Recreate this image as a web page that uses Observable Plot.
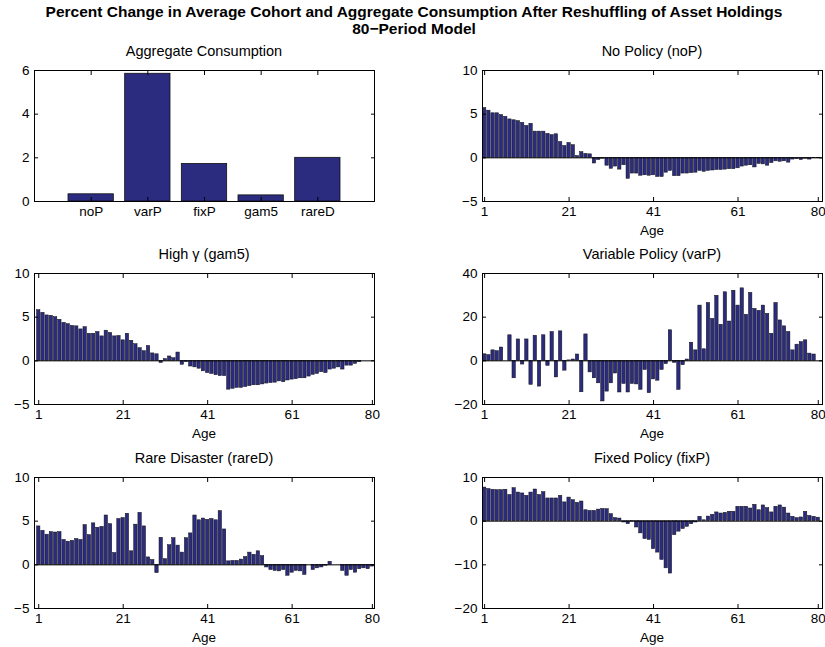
<!DOCTYPE html>
<html><head><meta charset="utf-8">
<script src="https://cdn.jsdelivr.net/npm/d3@7"></script>
<script src="https://cdn.jsdelivr.net/npm/@observablehq/plot@0.6"></script>
<style>
body{margin:0;background:#fff;}
#root{position:relative;width:825px;height:647px;overflow:hidden;font-family:"Liberation Sans",Arial,Helvetica,sans-serif;color:#000;}
.t{position:absolute;white-space:nowrap;transform:translate(-50%,-50%);line-height:1;}
</style></head><body><div id="root"></div>
<script>
// ---- data ----
const ages = d3.range(1, 81);
const ageTicks = [1, 21, 41, 61, 80];

const aggCategories = ["noP", "varP", "fixP", "gam5", "rareD"];
const aggValues = [0.33, 5.85, 1.72, 0.28, 2.0];
const aggTicks = [0, 2, 4, 6];

const noP = [5.7, 5.4, 5.1, 5.1, 4.9, 4.7, 4.4, 4.3, 4.2, 4.0,
  3.65, 3.9, 3.0, 3.0, 3.0, 2.75, 2.6, 2.7, 1.8, 1.35,
  1.7, 1.45, 0.2, 0.65, 0.45, 0.4, -0.65, -0.25, -0.1, -0.9,
  -1.25, -1.0, -1.35, -0.85, -2.4, -1.8, -1.8, -2.05, -2.0, -2.05,
  -2.0, -2.2, -2.2, -1.7, -1.5, -2.1, -2.1, -1.8, -1.8, -1.75,
  -1.7, -1.5, -1.6, -1.5, -1.45, -1.4, -1.4, -1.35, -1.3, -1.3,
  -1.2, -1.0, -0.9, -0.85, -1.1, -0.7, -0.75, -0.9, -0.6, -0.4,
  -0.45, -0.4, -0.55, -0.2, -0.15, -0.25, -0.1, -0.2, -0.05, -0.05];
const noPTicks = [-5, 0, 5, 10];

const gam5 = [5.8, 5.5, 5.2, 5.15, 5.0, 4.7, 4.35, 4.2, 4.0, 3.95,
  3.6, 3.85, 3.1, 3.1, 3.3, 2.8, 3.45, 3.2, 2.8, 2.85,
  2.35, 3.1, 2.3, 1.9, 1.45, 1.1, 1.7, 0.85, 0.75, -0.25,
  0.2, 0.5, 0.3, 0.95, -0.45, -0.15, -0.65, -0.75, -0.9, -1.2,
  -1.4, -1.5, -1.65, -1.75, -1.75, -3.3, -3.2, -3.1, -3.1, -3.0,
  -2.9, -2.8, -2.8, -2.7, -2.6, -2.55, -2.5, -2.35, -2.45, -2.25,
  -2.15, -2.1, -2.0, -2.0, -1.8, -1.6, -1.5, -1.3, -1.4, -1.0,
  -0.9, -0.75, -1.0, -0.55, -0.55, -0.35, -0.15, 0, 0, 0];
const gam5Ticks = [-5, 0, 5, 10];

const varP = [3.0, 2.6, 4.8, 4.4, 6.1, 0, 11.7, -8.0, 9.8, -1.7,
  9.8, -11.0, 11.5, -11.8, 11.7, -2.3, 13.2, -7.6, 13.5, -4.5,
  0.2, 0.6, 2.9, -14.4, 12.1, -5.3, -8.0, -10.3, -18.6, -14.1,
  -10.3, -5.8, -14.5, -10.6, -14.5, -10.6, -10.8, -13.3, -4.2, -14.8,
  -8.5, -9.1, -4.2, -1.5, 14.0, -0.9, -13.3, -2.0, 0.6, 8.3,
  4.8, 25.3, 5.3, 26.5, 19.2, 29.8, 16.5, 31.4, 18.0, 32.1,
  25.3, 33.2, 21.1, 31.1, 23.8, 22.9, 25.3, 21.5, 12.4, 26.5,
  18.5, 15.8, 13.2, 4.8, 7.4, 8.6, 9.4, 3.3, 2.9, 0];
const varPTicks = [-20, 0, 20, 40];

const rareD = [4.4, 3.9, 3.45, 3.75, 3.7, 3.75, 2.85, 2.65, 2.75, 2.95,
  2.85, 4.55, 3.4, 4.75, 4.25, 4.35, 5.65, 4.65, 1.35, 5.25,
  5.35, 5.85, 1.55, 4.6, 5.95, 4.4, 0.85, 0.55, -0.95, 3.1,
  0.65, 2.25, 3.05, 2.2, 1.4, 3.05, 3.6, 5.65, 5.1, 5.3,
  5.15, 5.25, 5.1, 6.15, 4.05, 0.4, 0.45, 0.45, 0.6, 0.9,
  1.4, 1.15, 1.55, 1.0, -0.3, -0.6, -0.7, -0.75, -0.6, -1.25,
  -0.9, -0.7, -0.75, -1.15, 0, -0.6, -0.4, -0.3, -0.1, 0.35,
  0, 0, -0.7, -1.25, -0.6, -0.9, -0.5, -0.4, -0.5, -0.2];
const rareDTicks = [-5, 0, 5, 10];

const fixP = [7.7, 7.35, 7.2, 7.1, 7.1, 7.2, 6.0, 7.55, 6.55, 6.35,
  5.8, 6.55, 7.25, 6.0, 6.65, 5.2, 5.2, 5.2, 5.8, 4.3,
  5.4, 4.8, 4.2, 4.5, 2.5, 2.35, 2.35, 2.65, 2.8, 2.75,
  1.6, 0.7, 0.6, -0.3, -0.7, -0.1, -1.45, -2.8, -4.1, -4.3,
  -6.4, -7.2, -8.9, -10.8, -12.0, -3.2, -2.4, -1.8, -1.3, -0.7,
  -0.3, 1.0, 0.2, 1.05, 1.45, 2.0, 1.75, 1.9, 2.15, 2.15,
  3.3, 3.3, 3.3, 2.9, 3.75, 2.5, 3.6, 3.0, 2.0, 3.3,
  3.6, 3.1, 1.75, 1.0, 0.7, 0.85, 2.15, 1.2, 1.0, 0.8];
const fixPTicks = [-20, -10, 0, 10];

// ---- layout ----
const root = document.getElementById("root");
const FONT = "Liberation Sans, Arial, Helvetica, sans-serif";
const TICKFONT = "13.5px";
const BAR = "#2b2b80";
const ML = 40, MR = 4, MT = 6, MB = 44;
const FW = 340, FH = 131;
const colX = [34, 482];
const rowY = [70, 273, 477];

function place(node, fx, fy) {
  node.style.position = "absolute";
  node.style.left = (fx - ML) + "px";
  node.style.top = (fy - MT) + "px";
  root.appendChild(node);
}
function label(text, x, y, opts = {}) {
  const d = document.createElement("div");
  d.className = "t";
  d.textContent = text;
  d.style.left = x + "px";
  d.style.top = y + "px";
  d.style.fontSize = (opts.size || 13.5) + "px";
  if (opts.bold) d.style.fontWeight = "bold";
  root.appendChild(d);
}

function axes(xTicks, yTicks, xFormat) {
  return [
    Plot.frame({stroke: "#000", strokeWidth: 1}),
    Plot.axisX(xTicks, {anchor: "bottom", tickSize: 0, tickPadding: 5, tickFormat: xFormat, label: null}),
    Plot.axisX(xTicks, {anchor: "bottom", tickSize: -4, tickFormat: () => "", label: null}),
    Plot.axisX(xTicks, {anchor: "top", tickSize: -4, tickFormat: () => "", label: null}),
    Plot.axisY(yTicks, {anchor: "left", tickSize: 0, tickPadding: 5, label: null}),
    Plot.axisY(yTicks, {anchor: "left", tickSize: -4, tickFormat: () => "", label: null}),
    Plot.axisY(yTicks, {anchor: "right", tickSize: -4, tickFormat: () => "", label: null})
  ];
}

function agePanel(values, yTicks, xDomain) {
  const data = ages.map((a, i) => ({age: a, v: values[i]}));
  return Plot.plot({
    width: FW + ML + MR, height: FH + MT + MB,
    marginLeft: ML, marginRight: MR, marginTop: MT, marginBottom: MB,
    style: {fontFamily: FONT, fontSize: TICKFONT, color: "#000", background: "transparent", overflow: "visible"},
    x: {domain: xDomain},
    y: {domain: [yTicks[0], yTicks[yTicks.length - 1]]},
    marks: [
      Plot.rect(data, {x1: d => d.age - 0.4, x2: d => d.age + 0.4, y1: 0, y2: "v",
        fill: BAR, stroke: "#111", strokeWidth: 0.5}),
      Plot.ruleY([0], {stroke: "#000", strokeWidth: 1}),
      ...axes(ageTicks, yTicks, d => String(d))
    ]
  });
}

// Aggregate panel
const aggData = aggCategories.map((c, i) => ({pos: i + 1, c, v: aggValues[i]}));
const aggPlot = Plot.plot({
  width: FW + ML + MR, height: FH + MT + MB,
  marginLeft: ML, marginRight: MR, marginTop: MT, marginBottom: MB,
  style: {fontFamily: FONT, fontSize: TICKFONT, color: "#000", background: "transparent", overflow: "visible"},
  x: {domain: [0, 6]},
  y: {domain: [0, 6]},
  marks: [
    Plot.rect(aggData, {x1: d => d.pos - 0.4, x2: d => d.pos + 0.4, y1: 0, y2: "v",
      fill: BAR, stroke: "#111", strokeWidth: 0.8}),
    ...axes(aggData.map(d => d.pos), aggTicks, p => aggCategories[p - 1])
  ]
});
place(aggPlot, colX[0], rowY[0]);

place(agePanel(noP, noPTicks, [0.5, 81]), colX[1], rowY[0]);
place(agePanel(gam5, gam5Ticks, [0, 80.5]), colX[0], rowY[1]);
place(agePanel(varP, varPTicks, [0.5, 81]), colX[1], rowY[1]);
place(agePanel(rareD, rareDTicks, [0, 80.5]), colX[0], rowY[2]);
place(agePanel(fixP, fixPTicks, [0.5, 81]), colX[1], rowY[2]);

// titles
label("Percent Change in Average Cohort and Aggregate Consumption After Reshuffling of Asset Holdings", 414, 12, {size: 15.5, bold: true});
label("80\u2212Period Model", 414, 29, {size: 15.5, bold: true});
const cx0 = colX[0] + FW / 2, cx1 = colX[1] + FW / 2;
const TS = 14.5;
label("Aggregate Consumption", cx0, rowY[0] - 19, {size: TS});
label("No Policy (noP)", cx1, rowY[0] - 19, {size: TS});
label("High \u03b3 (gam5)", cx0, rowY[1] - 19, {size: TS});
label("Variable Policy (varP)", cx1, rowY[1] - 19, {size: TS});
label("Rare Disaster (rareD)", cx0, rowY[2] - 19, {size: TS});
label("Fixed Policy (fixP)", cx1, rowY[2] - 19, {size: TS});
label("Age", cx1, rowY[0] + FH + 30);
label("Age", cx0, rowY[1] + FH + 30);
label("Age", cx1, rowY[1] + FH + 30);
label("Age", cx0, rowY[2] + FH + 30);
label("Age", cx1, rowY[2] + FH + 30);
</script></body></html>
